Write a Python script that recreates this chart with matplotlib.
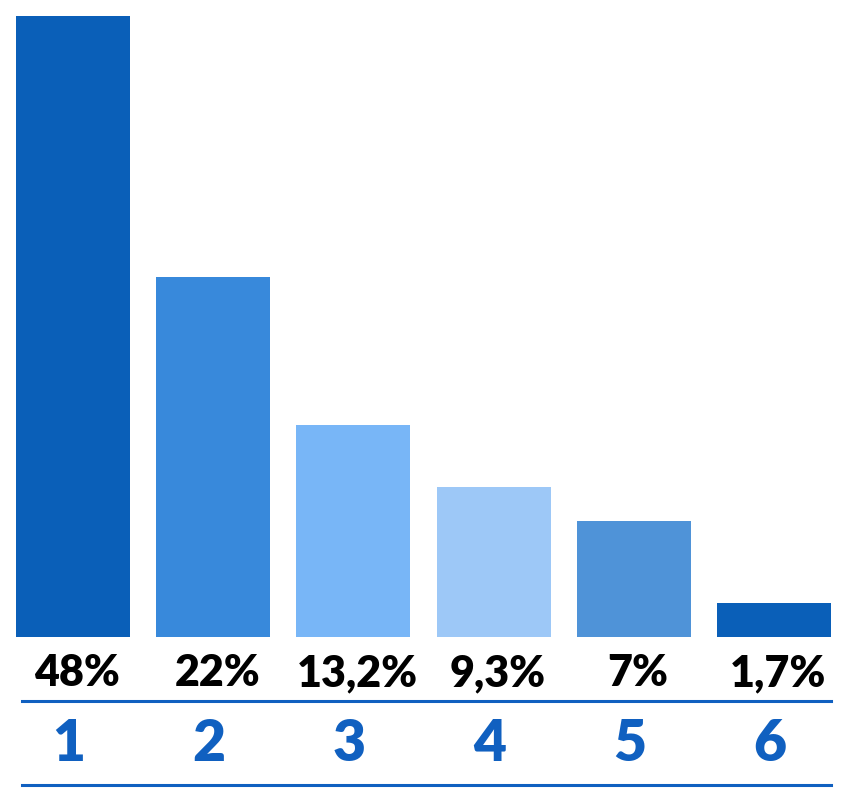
import matplotlib.pyplot as plt
from matplotlib.lines import Line2D
from matplotlib.transforms import blended_transform_factory

# Data
categories = ["1", "2", "3", "4", "5", "6"]
labels = ["48%", "22%", "13,2%", "9,3%", "7%", "1,7%"]
heights = [48, 27.8, 16.4, 11.6, 9.0, 2.6]  # drawn bar heights (not to label scale)
colors = ["#0A5FB8", "#3889DB", "#78B6F7", "#9DC8F7", "#4F93D8", "#0A5FB8"]

W, H = 850, 801
fig = plt.figure(figsize=(W / 100, H / 100), dpi=100)
ax = fig.add_axes([16 / W, (H - 637) / H, 815 / W, 621 / H])

x = list(range(len(categories)))
width = 0.814
ax.bar(x, heights, width=width, color=colors)
ax.set_xlim(-width / 2, len(categories) - 1 + width / 2)
ax.set_ylim(0, 48)
ax.axis("off")

trans = blended_transform_factory(ax.transData, ax.transAxes)
for xi, lab, cat in zip(x, labels, categories):
    ax.text(xi + 0.03, -0.058, lab, transform=trans, ha="center", va="center",
            fontsize=31, fontweight="heavy", family="Lato", color="black", clip_on=False)
    ax.text(xi - 0.03, -0.172, cat, transform=trans, ha="center", va="center",
            fontsize=41, fontweight="heavy", family="Lato", color="#1060C0", clip_on=False)

# blue separator lines
for ypx in (701, 785):
    fig.add_artist(Line2D([22 / W, 831 / W], [(H - ypx) / H] * 2,
                          color="#1060C0", linewidth=2.2))

fig.savefig("out.png", dpi=100)
